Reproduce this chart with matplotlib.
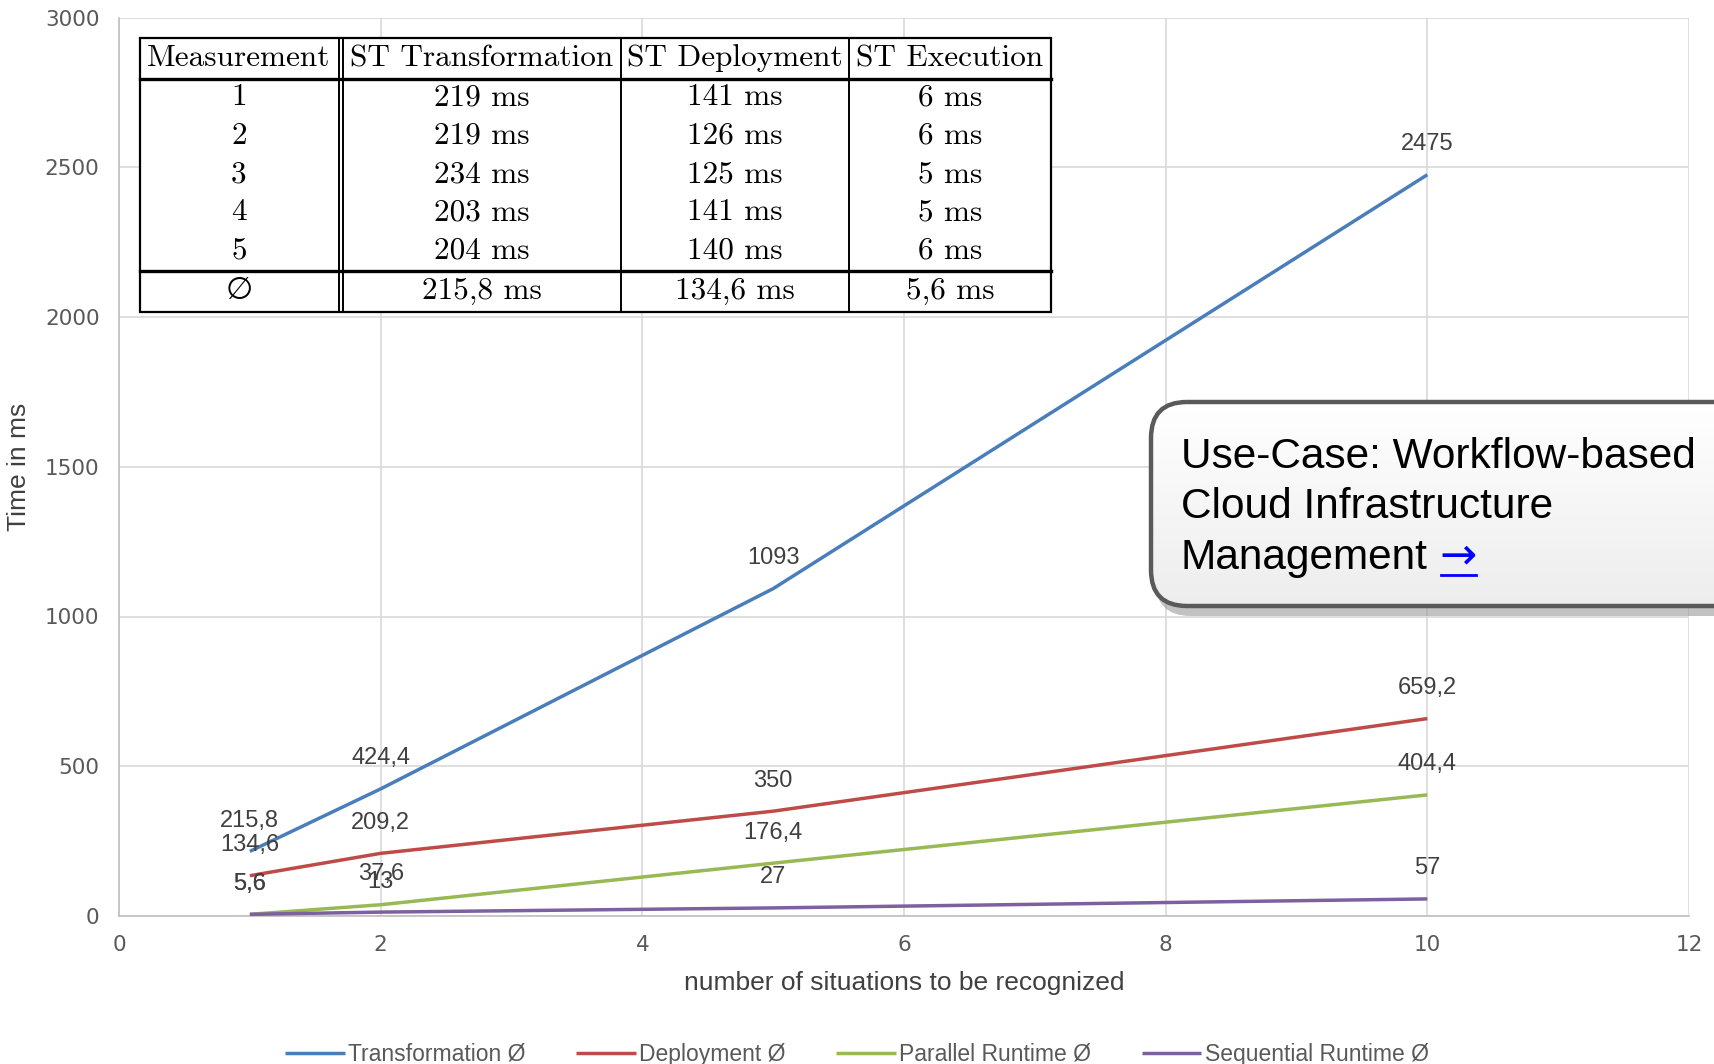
import numpy as np
import matplotlib
matplotlib.use("Agg")
import matplotlib.pyplot as plt
from matplotlib.patches import FancyBboxPatch, Rectangle

plt.rcParams['font.family'] = ['Liberation Sans', 'DejaVu Sans']

# chart data
situations = [1, 2, 5, 10]
transformation = [215.8, 424.4, 1093, 2475]
deployment = [134.6, 209.2, 350, 659.2]
parallel_runtime = [5.6, 37.6, 176.4, 404.4]
sequential_runtime = [5.6, 13, 27, 57]

series_names = ["Transformation Ø", "Deployment Ø", "Parallel Runtime Ø", "Sequential Runtime Ø"]
series_colors = ["#4a7ebb", "#be4b48", "#98b954", "#7d60a0"]

# embedded table data
table_header = ["Measurement", "ST Transformation", "ST Deployment", "ST Execution"]
table_runs = [1, 2, 3, 4, 5]
st_transformation = [219, 219, 234, 203, 204]
st_deployment = [141, 126, 125, 141, 140]
st_execution = [6, 6, 5, 5, 6]
table_avg = ["∅", "215,8 ms", "134,6 ms", "5,6 ms"]

callout_lines = ["Use-Case: Workflow-based", "Cloud Infrastructure", "Management"]

W, H = 1714, 1064
fig = plt.figure(figsize=(W / 100, H / 100), dpi=100)
ax = fig.add_axes([119 / W, 1 - 916 / H, (1689 - 119) / W, (916 - 17.5) / H])

all_series = [transformation, deployment, parallel_runtime, sequential_runtime]
for vals, name, col in zip(all_series, series_names, series_colors):
    ax.plot(situations, vals, color=col, lw=2.5, label=name, zorder=3,
            solid_capstyle='butt')
    for x, v in zip(situations, vals):
        ax.annotate(f"{v:g}".replace('.', ','), (x, v), xytext=(0, 22),
                    textcoords='offset points', ha='center', va='center',
                    fontsize=17, color='#404040', zorder=4)

ax.set_xlim(0, 12)
ax.set_ylim(0, 3000)
ax.set_xticks(range(0, 13, 2))
ax.set_yticks(range(0, 3001, 500))
ax.grid(True, color='#d9d9d9', lw=1.2)
ax.set_axisbelow(True)
for side in ['top', 'right']:
    ax.spines[side].set_visible(False)
for side in ['left', 'bottom']:
    ax.spines[side].set_color('#bfbfbf')
    ax.spines[side].set_linewidth(1.2)
ax.tick_params(length=0, labelsize=15.5, labelcolor='#595959')
ax.tick_params(axis='x', pad=14)
ax.tick_params(axis='y', pad=14)
for lab in ax.get_xticklabels() + ax.get_yticklabels():
    lab.set_fontfamily('DejaVu Sans')
ax.set_xlabel("number of situations to be recognized", fontsize=19, color='#404040', labelpad=11)
ax.set_ylabel("Time in ms", fontsize=19, color='#404040', labelpad=10)

fig.legend(loc='lower center', bbox_to_anchor=(0.5, -0.021), ncol=4, frameon=False,
           fontsize=16.5, labelcolor='#595959', handlelength=2.6, handletextpad=0.15,
           columnspacing=2.2)

# overlay in pixel coordinates for table and callout
ov = fig.add_axes([0, 0, 1, 1], zorder=5)
ov.patch.set_visible(False)
ov.axis('off')

# table
tx0, tx1 = 140, 1051
ty0, ty1 = 38, 312
ov.add_patch(Rectangle((tx0, ty0), tx1 - tx0, ty1 - ty0, facecolor='white',
                       edgecolor='black', lw=1.6, zorder=1))
for yy in [78.5, 271]:
    ov.plot([tx0, tx1], [yy, yy], color='black', lw=2.4, zorder=2)
for xx in [339, 343, 621, 849]:
    ov.plot([xx, xx], [ty0, ty1], color='black', lw=1.4, zorder=2)

col_x = [239, 482, 735, 950]
row_y = [97.5, 136, 174.5, 212.5, 250.5]
tfont = dict(fontsize=22.5, family=['cmr10', 'DejaVu Sans'], ha='center', va='center', zorder=3)
for cx, h in zip(col_x, table_header):
    ov.text(cx, 58.5, h, **tfont)
for ry, r, a, b, c in zip(row_y, table_runs, st_transformation, st_deployment, st_execution):
    for cx, s in zip(col_x, [str(r), f"{a} ms", f"{b} ms", f"{c} ms"]):
        ov.text(cx, ry, s, **tfont)
for cx, s in zip(col_x, table_avg):
    ov.text(cx, 291, s, **tfont)

# callout box
bx0, by0, bw, bh = 1151, 402, 620, 204
shadow = FancyBboxPatch((bx0 + 4, by0 + 10), bw, bh, boxstyle="round,pad=0,rounding_size=36",
                        facecolor='#9a9a9a', edgecolor='none', alpha=0.6, zorder=5)
ov.add_patch(shadow)
box = FancyBboxPatch((bx0, by0), bw, bh, boxstyle="round,pad=0,rounding_size=36",
                     facecolor='none', edgecolor='#5a5a5a', lw=3.2, zorder=7)
ov.add_patch(box)
grad = np.linspace(1.0, 0.93, 100).reshape(-1, 1)
img = ov.imshow(np.dstack([grad, grad, grad]), extent=[bx0, bx0 + bw, by0 + bh, by0],
                aspect='auto', zorder=6)
img.set_clip_path(box)
line_y = [457, 507, 558]
texts = []
for ly, s in zip(line_y, callout_lines):
    texts.append(ov.text(1181, ly, s, fontsize=30.5, ha='left', va='center', color='black', zorder=8))

ov.set_xlim(0, W)
ov.set_ylim(H, 0)

fig.canvas.draw()
r = fig.canvas.get_renderer()
inv = ov.transData.inverted()
bb = texts[-1].get_window_extent(r)
end_x = inv.transform((bb.x1, bb.y0))[0]
arr = ov.text(end_x + 12, 556, "→", fontsize=32, family='DejaVu Sans', ha='left', va='center',
              color='#0000ff', zorder=8)
fig.canvas.draw()
ab = arr.get_window_extent(r)
a0 = inv.transform((ab.x0, ab.y0))[0]
a1 = inv.transform((ab.x1, ab.y0))[0]
ov.plot([a0 + 1, a1 - 1], [575, 575], color='#0000ff', lw=2, zorder=8)

fig.savefig("out.png", dpi=100)
